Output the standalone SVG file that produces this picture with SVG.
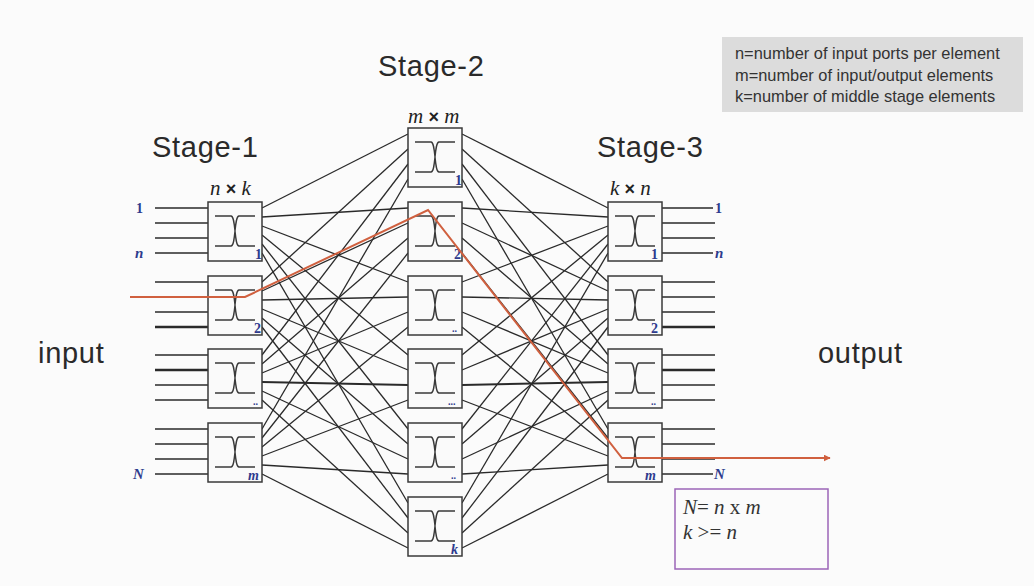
<svg xmlns="http://www.w3.org/2000/svg" width="1034" height="586" viewBox="0 0 1034 586">
<style>
.hd{font-family:"Liberation Sans",Arial,sans-serif;font-size:29px;fill:#2a2a2a;letter-spacing:0.7px}
.lg{font-family:"Liberation Sans",Arial,sans-serif;font-size:16.4px;fill:#333}
.dim{font-family:"Liberation Serif","Times New Roman",serif;font-style:italic;font-size:21px;fill:#222}
.x{font-family:"Liberation Sans",Arial,sans-serif;font-weight:bold;font-style:normal;font-size:18px}
.bl{font-family:"Liberation Serif","Times New Roman",serif;font-weight:bold;font-size:14px;fill:#2e3b8e}
.bli{font-family:"Liberation Serif","Times New Roman",serif;font-weight:bold;font-style:italic;font-size:15px;fill:#2e3b8e}
.eq{font-family:"Liberation Serif","Times New Roman",serif;font-style:italic;font-size:21px;fill:#333}
.ln line{stroke:#2a2a2a;stroke-width:1.3}
.box{fill:#fafafa;stroke:#3a3a3a;stroke-width:1.5}
.sw{fill:none;stroke:#3a3a3a;stroke-width:1.4}
</style>
<defs>
<g id="elem">
<rect class="box" x="0" y="0" width="54" height="59"/>
<path class="sw" d="M7 14H23C28 14 26 44 31 44H47M47 14H31C26 14 28 44 23 44H7"/>
</g>
<marker id="ar" viewBox="0 0 10 10" refX="9" refY="5" markerWidth="7" markerHeight="7" markerUnits="userSpaceOnUse" orient="auto">
<path d="M0 0L10 5L0 10z" fill="#d0603f"/>
</marker>
</defs>
<rect width="1034" height="586" fill="#fbfbfb"/>

<g id="legend">
<rect x="722" y="37" width="301" height="75" fill="#dcdcdc"/>
<text class="lg" x="735" y="59">n=number of input ports per element</text>
<text class="lg" x="735" y="81">m=number of input/output elements</text>
<text class="lg" x="735" y="102">k=number of middle stage elements</text>
</g>

<g id="labels">
<text class="hd" x="152" y="157">Stage-1</text>
<text class="hd" x="378" y="76">Stage-2</text>
<text class="hd" x="597" y="157">Stage-3</text>
<text class="hd" x="38" y="363">input</text>
<text class="hd" x="818" y="363">output</text>
<text class="dim" x="210" y="195">n <tspan class="x">×</tspan> k</text>
<text class="dim" x="408" y="123">m <tspan class="x">×</tspan> m</text>
<text class="dim" x="610" y="195">k <tspan class="x">×</tspan> n</text>
<text class="bl" x="136" y="213">1</text>
<text class="bli" x="135" y="258">n</text>
<text class="bli" x="133" y="479">N</text>
<text class="bl" x="715" y="213">1</text>
<text class="bli" x="715" y="258">n</text>
<text class="bli" x="714" y="479">N</text>
</g>

<g id="connectors" class="ln">
<line x1="155" y1="208" x2="208" y2="208"/><line x1="155" y1="223" x2="208" y2="223"/><line x1="155" y1="238" x2="208" y2="238"/><line x1="155" y1="253" x2="208" y2="253"/>
<line x1="155" y1="282" x2="208" y2="282"/><line x1="155" y1="297" x2="208" y2="297"/><line x1="155" y1="312" x2="208" y2="312"/><line x1="155" y1="327" x2="208" y2="327" style="stroke-width:2.3"/>
<line x1="155" y1="355" x2="208" y2="355"/><line x1="155" y1="370" x2="208" y2="370" style="stroke-width:2.3"/><line x1="155" y1="385" x2="208" y2="385"/><line x1="155" y1="400" x2="208" y2="400"/>
<line x1="155" y1="429" x2="208" y2="429"/><line x1="155" y1="444" x2="208" y2="444"/><line x1="155" y1="459" x2="208" y2="459"/><line x1="155" y1="474" x2="208" y2="474"/>
<line x1="662" y1="208" x2="713" y2="208"/><line x1="662" y1="223" x2="715" y2="223"/><line x1="662" y1="238" x2="715" y2="238"/><line x1="662" y1="253" x2="713" y2="253"/>
<line x1="662" y1="282" x2="715" y2="282"/><line x1="662" y1="297" x2="715" y2="297"/><line x1="662" y1="312" x2="715" y2="312"/><line x1="662" y1="327" x2="715" y2="327" style="stroke-width:2.3"/>
<line x1="662" y1="355" x2="715" y2="355"/><line x1="662" y1="370" x2="715" y2="370" style="stroke-width:2.3"/><line x1="662" y1="385" x2="715" y2="385"/><line x1="662" y1="400" x2="715" y2="400"/>
<line x1="662" y1="429" x2="715" y2="429"/><line x1="662" y1="444" x2="715" y2="444"/><line x1="662" y1="459" x2="715" y2="459"/><line x1="662" y1="474" x2="713" y2="474"/>
<line x1="262" y1="208" x2="408" y2="134"/><line x1="262" y1="217" x2="408" y2="208"/><line x1="262" y1="226" x2="408" y2="282"/><line x1="262" y1="235" x2="408" y2="355"/><line x1="262" y1="244" x2="408" y2="429"/><line x1="262" y1="253" x2="408" y2="503"/>
<line x1="262" y1="282" x2="408" y2="149"/><line x1="262" y1="291" x2="408" y2="223"/><line x1="262" y1="300" x2="408" y2="297"/><line x1="262" y1="309" x2="408" y2="370"/><line x1="262" y1="318" x2="408" y2="444"/><line x1="262" y1="327" x2="408" y2="518"/>
<line x1="262" y1="355" x2="408" y2="164"/><line x1="262" y1="364" x2="408" y2="238"/><line x1="262" y1="373" x2="408" y2="312"/><line x1="262" y1="382" x2="408" y2="385" style="stroke-width:2"/><line x1="262" y1="391" x2="408" y2="459"/><line x1="262" y1="400" x2="408" y2="533"/>
<line x1="262" y1="429" x2="408" y2="179"/><line x1="262" y1="438" x2="408" y2="253"/><line x1="262" y1="447" x2="408" y2="327"/><line x1="262" y1="456" x2="408" y2="400"/><line x1="262" y1="465" x2="408" y2="474"/><line x1="262" y1="474" x2="408" y2="548"/>
<line x1="608" y1="208" x2="462" y2="134"/><line x1="608" y1="217" x2="462" y2="208"/><line x1="608" y1="226" x2="462" y2="282"/><line x1="608" y1="235" x2="462" y2="355"/><line x1="608" y1="244" x2="462" y2="429"/><line x1="608" y1="253" x2="462" y2="503"/>
<line x1="608" y1="282" x2="462" y2="149"/><line x1="608" y1="291" x2="462" y2="223"/><line x1="608" y1="300" x2="462" y2="297"/><line x1="608" y1="309" x2="462" y2="370"/><line x1="608" y1="318" x2="462" y2="444"/><line x1="608" y1="327" x2="462" y2="518"/>
<line x1="608" y1="355" x2="462" y2="164"/><line x1="608" y1="364" x2="462" y2="238"/><line x1="608" y1="373" x2="462" y2="312"/><line x1="608" y1="382" x2="462" y2="385" style="stroke-width:2"/><line x1="608" y1="391" x2="462" y2="459"/><line x1="608" y1="400" x2="462" y2="533"/>
<line x1="608" y1="429" x2="462" y2="179"/><line x1="608" y1="438" x2="462" y2="253"/><line x1="608" y1="447" x2="462" y2="327"/><line x1="608" y1="456" x2="462" y2="400"/><line x1="608" y1="465" x2="462" y2="474"/><line x1="608" y1="474" x2="462" y2="548"/>
</g>

<g id="s1-1"><use href="#elem" x="208" y="202"/><text class="bl" x="255" y="259">1</text></g>
<g id="s1-2"><use href="#elem" x="208" y="276"/><text class="bl" x="254" y="333">2</text></g>
<g id="s1-3"><use href="#elem" x="208" y="349"/><text class="bl" x="253" y="405" style="font-size:10px">..</text></g>
<g id="s1-4"><use href="#elem" x="208" y="423"/><text class="bli" x="248" y="480" style="font-size:14px">m</text></g>

<g id="s2-1"><use href="#elem" x="408" y="128"/><text class="bl" x="455" y="185">1</text></g>
<g id="s2-2"><use href="#elem" x="408" y="202"/><text class="bl" x="454" y="259">2</text></g>
<g id="s2-3"><use href="#elem" x="408" y="276"/><text class="bl" x="452" y="332" style="font-size:10px">..</text></g>
<g id="s2-4"><use href="#elem" x="408" y="349"/><text class="bl" x="448" y="405" style="font-size:10px">...</text></g>
<g id="s2-5"><use href="#elem" x="408" y="423"/><text class="bl" x="451" y="479" style="font-size:10px">..</text></g>
<g id="s2-6"><use href="#elem" x="408" y="497"/><text class="bli" x="451" y="554" style="font-size:14px">k</text></g>

<g id="s3-1"><use href="#elem" x="608" y="202"/><text class="bl" x="651" y="259">1</text></g>
<g id="s3-2"><use href="#elem" x="608" y="276"/><text class="bl" x="651" y="333">2</text></g>
<g id="s3-3"><use href="#elem" x="608" y="349"/><text class="bl" x="651" y="405" style="font-size:10px">..</text></g>
<g id="s3-4"><use href="#elem" x="608" y="423"/><text class="bli" x="645" y="480" style="font-size:14px">m</text></g>

<g id="path">
<polyline points="130,297 245,297 428,210 622,458 830,458" fill="none" stroke="#d0603f" stroke-width="2" marker-end="url(#ar)"/>
</g>

<g id="formula">
<rect x="675" y="489" width="153" height="80" fill="none" stroke="#9c65b8" stroke-width="1.5"/>
<text class="eq" x="683" y="514">N<tspan font-style="normal">= </tspan>n<tspan font-style="normal"> x </tspan>m</text>
<text class="eq" x="683" y="539">k<tspan font-style="normal"> &gt;= </tspan>n</text>
</g>
</svg>
